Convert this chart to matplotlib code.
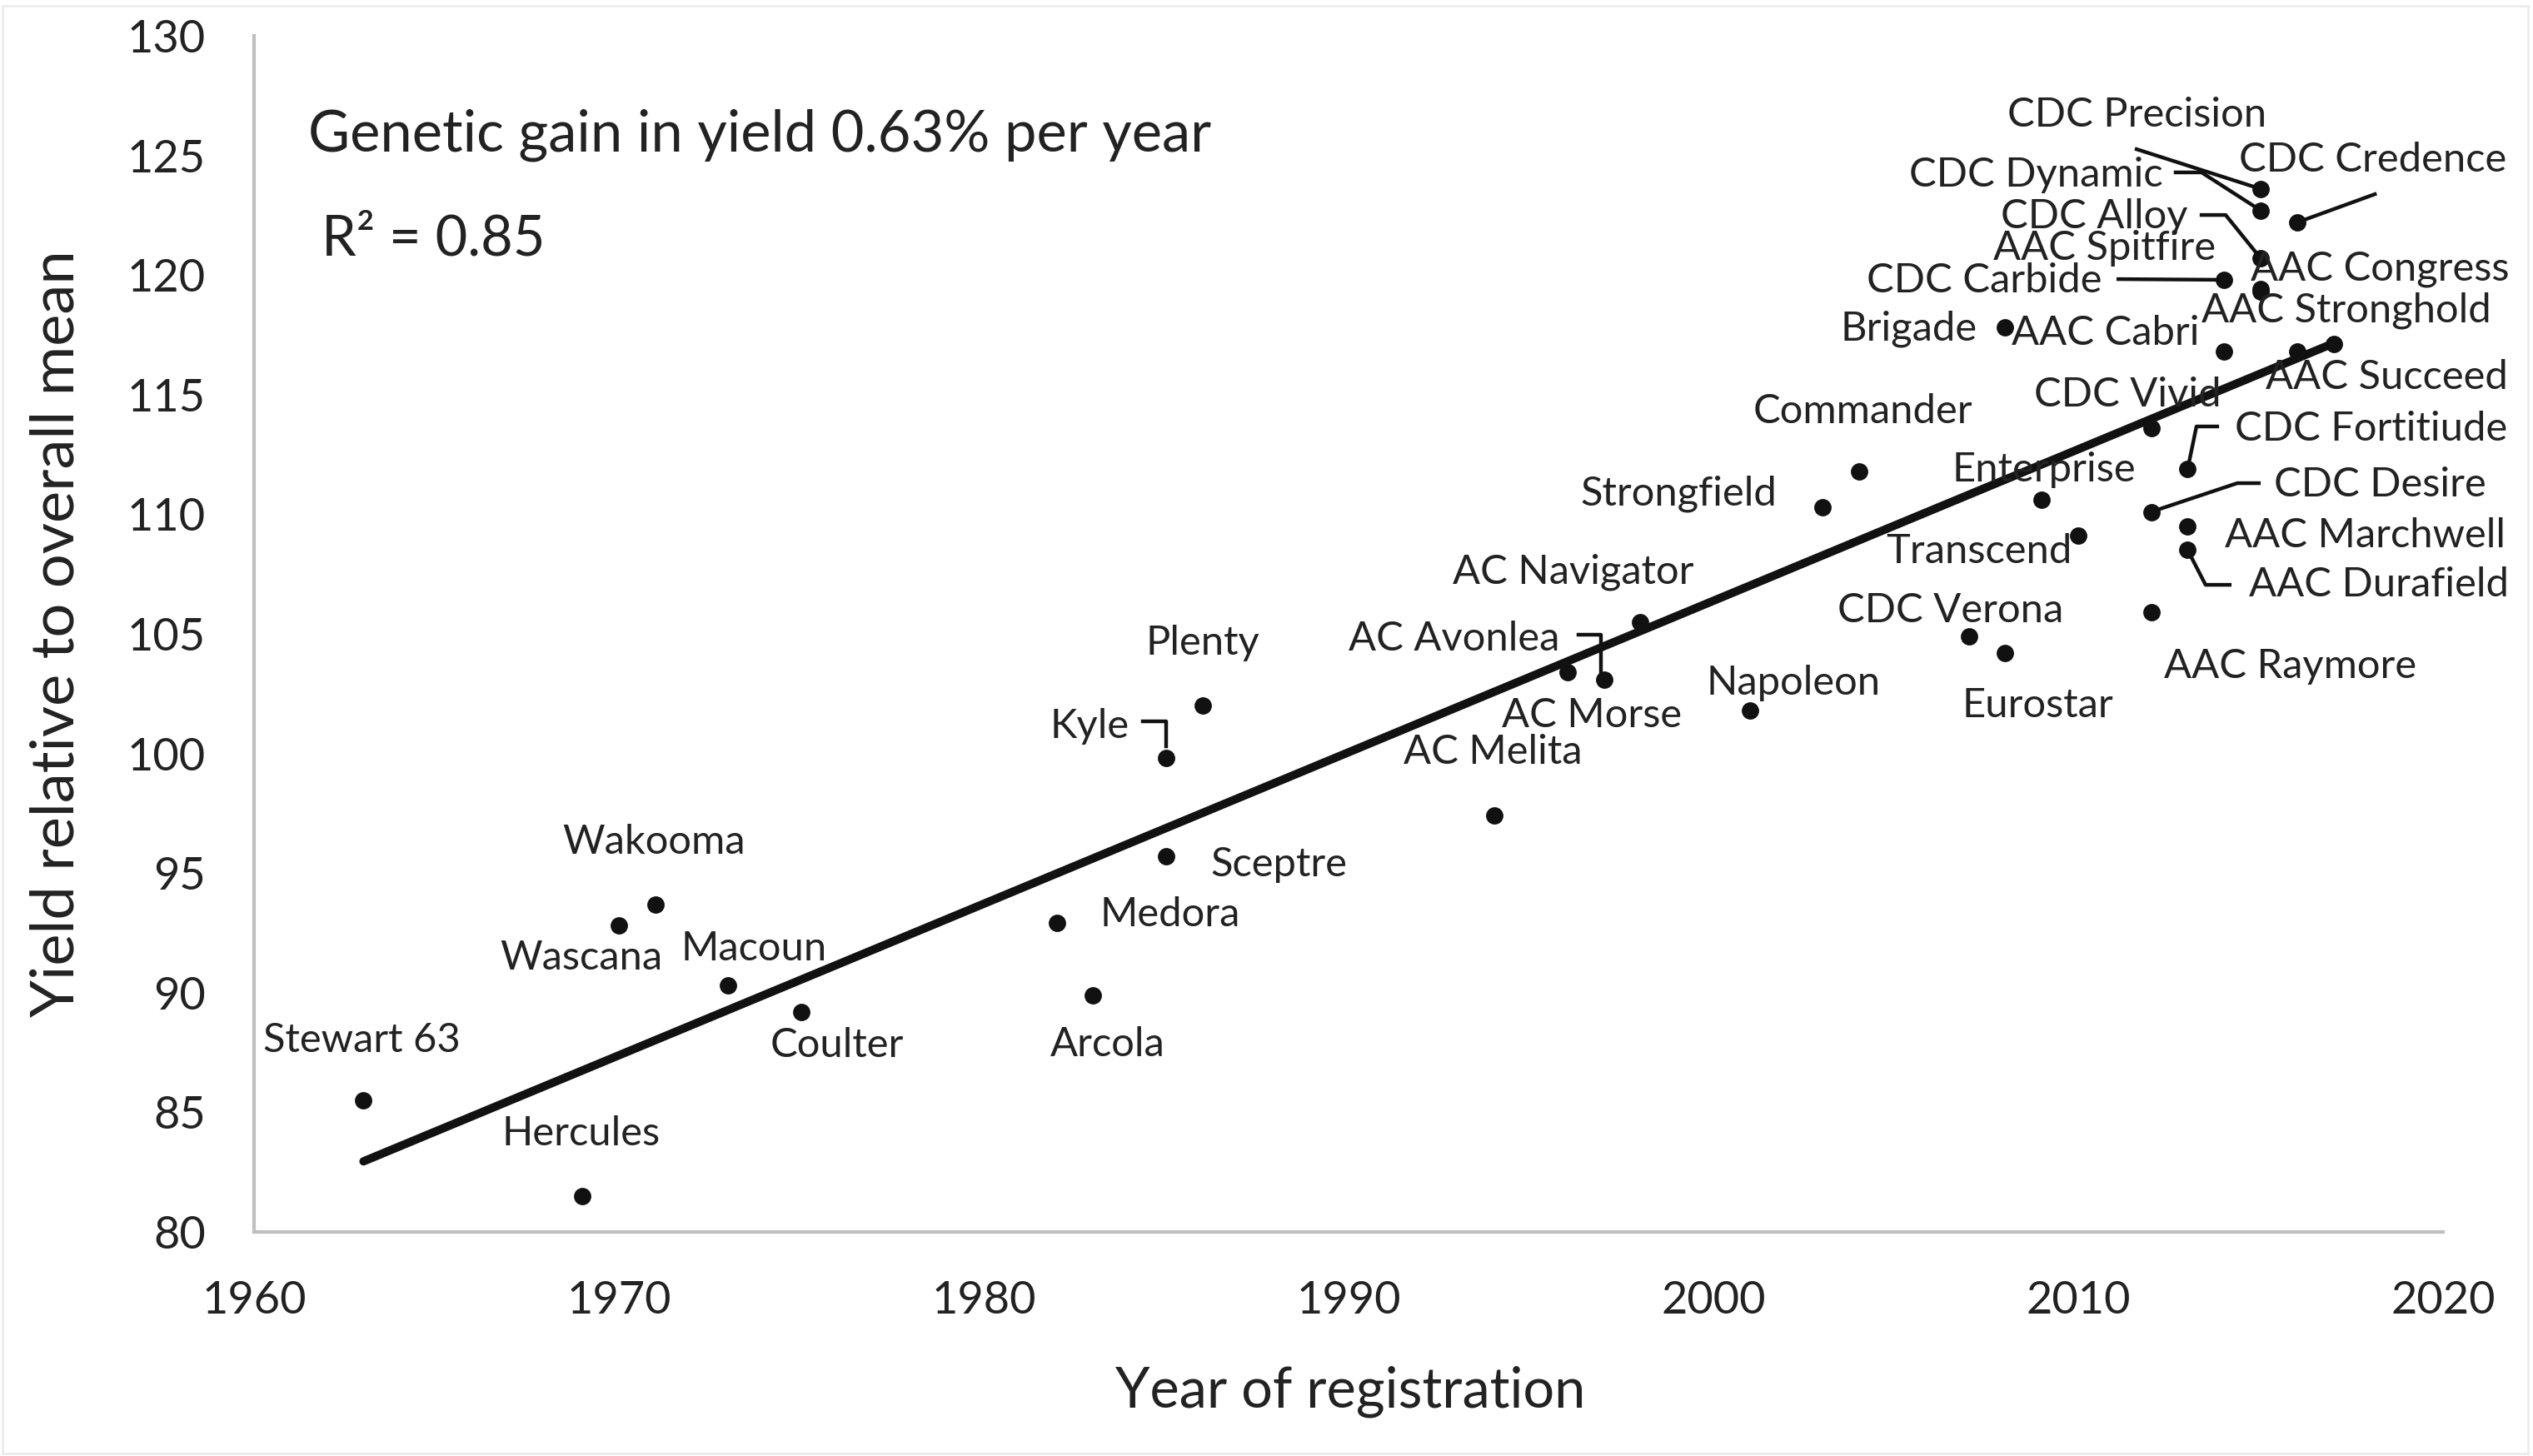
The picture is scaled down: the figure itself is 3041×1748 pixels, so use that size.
import matplotlib
matplotlib.use("Agg")
import matplotlib.pyplot as plt
from matplotlib.patches import Rectangle

# ---------------- data ----------------
cultivars = ["Stewart 63", "Hercules", "Wascana", "Wakooma", "Macoun", "Coulter",
             "Medora", "Arcola", "Kyle", "Sceptre", "Plenty", "AC Melita",
             "AC Morse", "AC Avonlea", "AC Navigator", "Napoleon", "Strongfield",
             "Commander", "CDC Verona", "Eurostar", "Brigade", "Enterprise",
             "Transcend", "CDC Vivid", "CDC Desire", "AAC Raymore", "CDC Fortitiude",
             "AAC Marchwell", "AAC Durafield", "CDC Carbide", "AAC Cabri",
             "CDC Precision", "CDC Dynamic", "CDC Alloy", "AAC Spitfire",
             "AAC Congress", "CDC Credence", "AAC Stronghold", "AAC Succeed"]
years = [1963, 1969, 1970, 1971, 1973, 1975,
         1982, 1983, 1985, 1985, 1986, 1994,
         1996, 1997, 1998, 2001, 2003,
         2004, 2007, 2008, 2008, 2009,
         2010, 2012, 2012, 2012, 2013,
         2013, 2013, 2014, 2014,
         2015, 2015, 2015, 2015,
         2015, 2016, 2016, 2017]
yield_rel = [85.5, 81.5, 92.8, 93.7, 90.3, 89.2,
             92.9, 89.9, 99.8, 95.7, 102.0, 97.4,
             103.4, 103.1, 105.5, 101.8, 110.3,
             111.8, 104.9, 104.2, 117.8, 110.6,
             109.1, 113.6, 110.1, 105.9, 111.9,
             109.5, 108.5, 119.8, 116.8,
             123.6, 122.7, 120.7, 119.4,
             119.3, 122.2, 116.8, 117.1]

trend_years = [1963, 2017]
trend_values = [82.95, 117.15]

gain_text = "Genetic gain in yield 0.63% per year"
r2_text = "R\u00b2 = 0.85"
x_ticks = [1960, 1970, 1980, 1990, 2000, 2010, 2020]
y_ticks = [80, 85, 90, 95, 100, 105, 110, 115, 120, 125, 130]

# ---------------- label layout (positions of names, in data units) ----------------
label_pos = {
    "Stewart 63": (1962.95, 88.0), "Hercules": (1968.97, 84.1),
    "Wascana": (1968.97, 91.45), "Wakooma": (1970.96, 96.3),
    "Macoun": (1973.7, 91.85), "Coulter": (1975.98, 87.8),
    "Medora": (1985.1, 93.25), "Arcola": (1983.4, 87.85),
    "Kyle": (1982.9, 101.15), "Sceptre": (1988.1, 95.35),
    "Plenty": (1986.0, 104.6), "AC Melita": (1993.95, 100.06),
    "AC Morse": (1996.67, 101.6), "AC Avonlea": (1992.9, 104.8),
    "AC Navigator": (1996.15, 107.58), "Napoleon": (2002.2, 102.95),
    "Strongfield": (1999.05, 110.85), "Commander": (2004.1, 114.3),
    "CDC Verona": (2006.5, 105.97), "Eurostar": (2008.9, 102.0),
    "Brigade": (2005.35, 117.74), "Enterprise": (2009.05, 111.85),
    "Transcend": (2007.28, 108.45), "CDC Vivid": (2011.35, 115.0),
    "CDC Desire": (2018.27, 111.23), "AAC Raymore": (2015.82, 103.64),
    "CDC Fortitiude": (2018.02, 113.57), "AAC Marchwell": (2017.86, 109.11),
    "AAC Durafield": (2018.24, 107.05), "CDC Carbide": (2007.42, 119.76),
    "AAC Cabri": (2010.75, 117.57), "CDC Precision": (2011.6, 126.69),
    "CDC Dynamic": (2008.84, 124.19), "CDC Alloy": (2010.45, 122.44),
    "AAC Spitfire": (2010.71, 121.12), "AAC Congress": (2018.27, 120.25),
    "CDC Credence": (2018.08, 124.81), "AAC Stronghold": (2017.35, 118.51),
    "AAC Succeed": (2018.45, 115.72),
}

leaders = [
    [(2011.6, 125.26), (2015.0, 123.6)],
    [(2012.67, 124.29), (2013.38, 124.29), (2015.0, 122.7)],
    [(2018.13, 123.38), (2016.0, 122.2)],
    [(2013.38, 122.51), (2014.04, 122.51), (2015.0, 120.7)],
    [(2011.1, 119.83), (2014.0, 119.8)],
    [(2013.81, 113.67), (2013.24, 113.67), (2013.0, 111.9)],
    [(2012.0, 110.1), (2014.36, 111.3), (2014.95, 111.3)],
    [(2013.0, 108.5), (2013.49, 107.05), (2014.15, 107.05)],
    [(1996.3, 104.97), (1996.92, 104.97), (1996.92, 103.4)],
    [(1984.36, 101.34), (1985.0, 101.34), (1985.0, 100.3)],
]

# ---------------- figure ----------------
FONT = ["Lato", "DejaVu Sans"]
TXT = "#222222"
plt.rcParams["font.family"] = FONT

fig = plt.figure(figsize=(15.205, 8.74), dpi=200)
fig.patches.append(Rectangle((0.001, 0.002), 0.997, 0.994, transform=fig.transFigure,
                             fill=False, edgecolor="#ececec", linewidth=1.0))
ax = fig.add_axes([0.1003, 0.1539, 0.8642, 0.8215])

ax.plot(trend_years, trend_values, color="#111111", lw=3.6, solid_capstyle="round", zorder=2)
ax.plot(years, yield_rel, "o", color="#111111", ms=6.5, zorder=3, linestyle="none")

for seg in leaders:
    xs = [p[0] for p in seg]
    ys = [p[1] for p in seg]
    ax.plot(xs, ys, color="#111111", lw=1.6, zorder=2)

for name in cultivars:
    lx, ly = label_pos[name]
    ax.text(lx, ly, name, ha="center", va="center", fontsize=17.6, color=TXT, zorder=4)

ax.text(1961.48, 125.86, gain_text, ha="left", va="center", fontsize=24.7, color=TXT)
ax.text(1961.85, 121.5, r2_text, ha="left", va="center", fontsize=24, color=TXT)

ax.set_xlim(1960, 2020)
ax.set_ylim(80, 130)
ax.set_xticks(x_ticks)
ax.set_yticks(y_ticks)
ax.tick_params(axis="both", length=0, labelsize=19.5, colors=TXT)
ax.tick_params(axis="x", pad=21)
ax.tick_params(axis="y", pad=21)

for s in ["top", "right"]:
    ax.spines[s].set_visible(False)
for s in ["left", "bottom"]:
    ax.spines[s].set_color("#bfbfbf")
    ax.spines[s].set_linewidth(1.5)

ax.set_xlabel("Year of registration", fontsize=24, color=TXT)
ax.set_ylabel("Yield relative to overall mean", fontsize=26, color=TXT)
ax.xaxis.set_label_coords(0.5008, -0.1337)
ax.yaxis.set_label_coords(-0.0902, 0.5)
ax.xaxis.label.set_va("center")
ax.yaxis.label.set_va("center")

fig.savefig("out.png", dpi=200, facecolor="white")
